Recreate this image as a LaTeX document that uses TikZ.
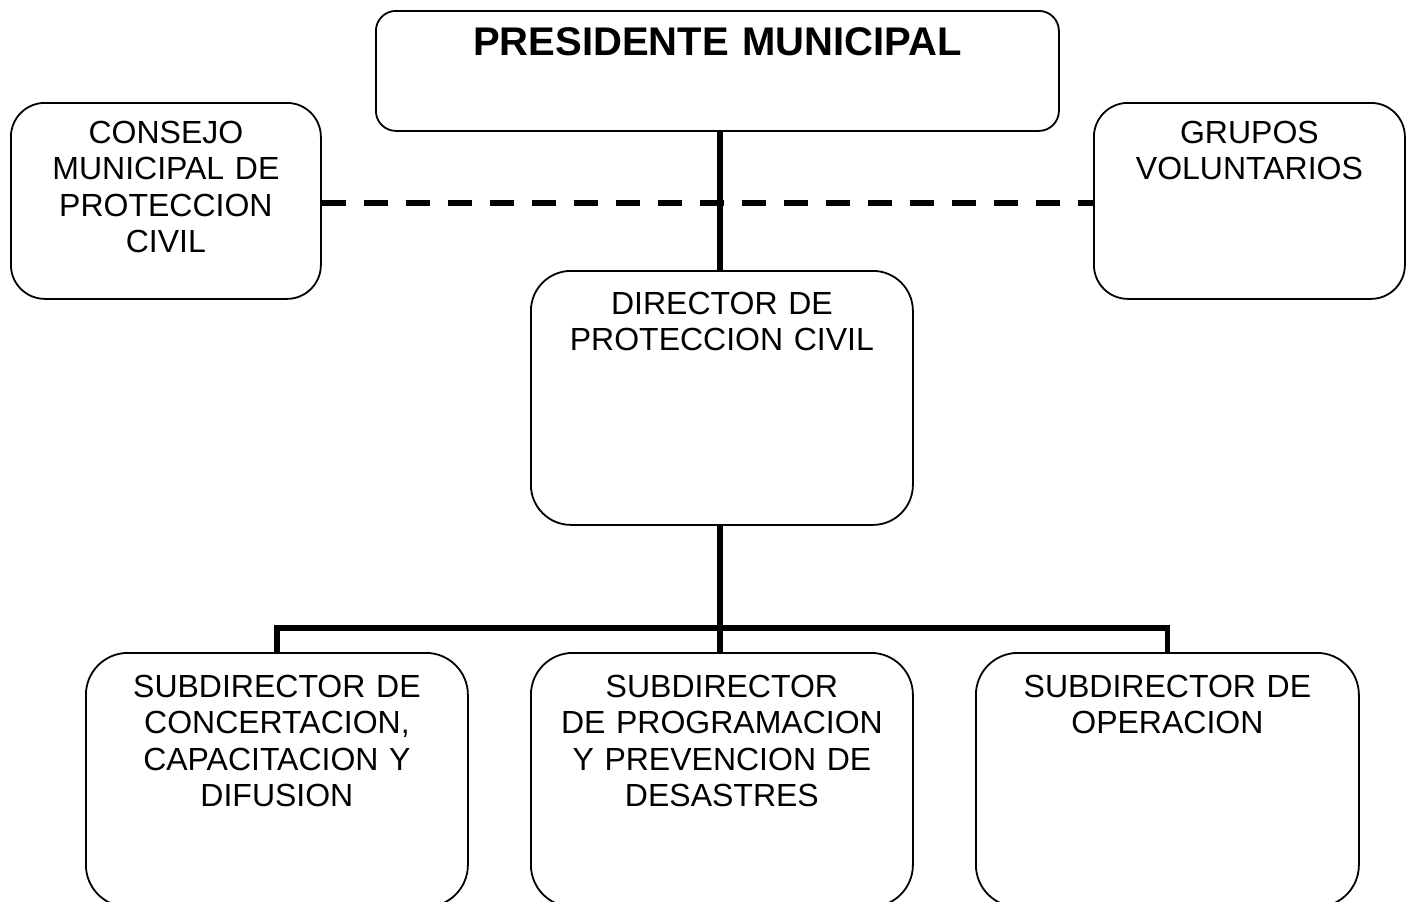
\documentclass[tikz,border=0pt]{standalone}
\usepackage{fontspec}
\setmainfont{Liberation Sans}
\begin{document}
\begin{tikzpicture}[x=1pt,y=-1pt,
  box/.style={draw, line width=1.8pt, inner sep=0pt, align=center, anchor=north west,
    font=\fontsize{32}{36.5}\selectfont},
  bigbox/.style={box, font=\fontsize{40}{46}\selectfont\bfseries},
  link/.style={line width=5.5pt, line join=miter, line cap=butt},
  dashlink/.style={line width=6pt, dash pattern=on 24pt off 18pt}
]
\useasboundingbox (0,0) rectangle (1406,902);

\node[bigbox, rounded corners=20pt, text width=683pt, text height=45pt, text depth=75pt] (pres) at (375,10) {PRESIDENTE MUNICIPAL};
\node[box, rounded corners=34pt, text width=310pt, text height=40.5pt, text depth=155.5pt] (cons) at (10,102) {CONSEJO\\MUNICIPAL DE\\PROTECCION\\CIVIL};
\node[box, rounded corners=34pt, text width=311pt, text height=40.5pt, text depth=155.5pt] (grup) at (1093,102) {GRUPOS\\VOLUNTARIOS};
\node[box, rounded corners=40pt, text width=382pt, text height=43.5pt, text depth=210.5pt] (dir) at (530,270) {DIRECTOR DE\\PROTECCION CIVIL};
\node[box, rounded corners=42pt, text width=382pt, text height=44.5pt, text depth=209.5pt] (sub1) at (85,652) {SUBDIRECTOR DE\\CONCERTACION,\\CAPACITACION Y\\DIFUSION};
\node[box, rounded corners=42pt, text width=382pt, text height=44.5pt, text depth=209.5pt] (sub2) at (530,652) {SUBDIRECTOR\\DE PROGRAMACION\\Y PREVENCION DE\\DESASTRES};
\node[box, rounded corners=42pt, text width=383pt, text height=44.5pt, text depth=209.5pt] (sub3) at (975,652) {SUBDIRECTOR DE\\OPERACION};

\coordinate (top) at ([xshift=-2pt]dir.north |- pres.south);
\draw[link] (top) -- ([xshift=-2pt]dir.north);
\draw[dashlink] ([yshift=-2pt]cons.east) -- ([yshift=-2pt]cons.east -| grup.west);
\draw[link] ([xshift=-2pt]dir.south) -- ([xshift=-2pt]sub2.north);
\draw[link] (sub1.north) -- ++(0,-24) -| (sub3.north);
\end{tikzpicture}
\end{document}
